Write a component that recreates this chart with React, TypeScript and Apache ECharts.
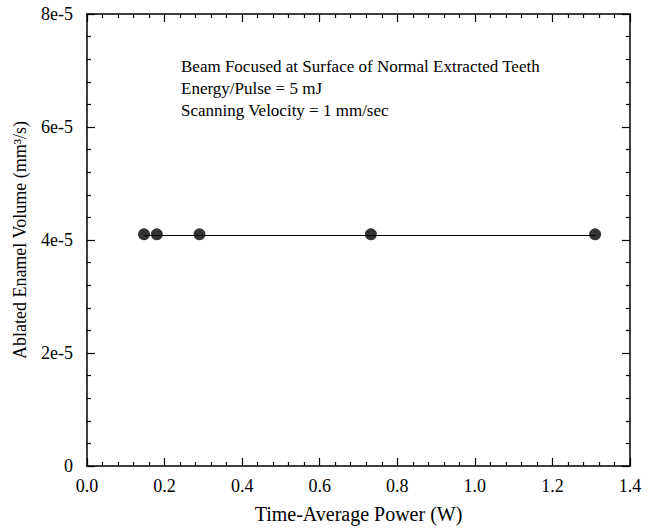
import React, { useEffect, useRef } from "react";
import * as echarts from "echarts";

const xValues = [0.147, 0.18, 0.29, 0.732, 1.31];
const yValues = [4.1e-5, 4.1e-5, 4.1e-5, 4.1e-5, 4.1e-5];
const fitX = [0.147, 1.31];
const fitY = [4.08e-5, 4.08e-5];
const xTickLabels = ["0.0", "0.2", "0.4", "0.6", "0.8", "1.0", "1.2", "1.4"];
const yTickLabels = ["0", "2e-5", "4e-5", "6e-5", "8e-5"];
const notes = [
  "Beam Focused at Surface of Normal Extracted Teeth",
  "Energy/Pulse = 5 mJ",
  "Scanning Velocity = 1 mm/sec",
];

const FONT = "Liberation Serif";

export default function App() {
  const ref = useRef<HTMLDivElement>(null);
  useEffect(() => {
    if (!ref.current) return;
    const chart = echarts.init(ref.current, undefined, { renderer: "svg" });
    const axisLine = { show: true, onZero: false, lineStyle: { color: "#000", width: 1.5 } };
    const axisTick = { show: true, inside: true, length: 8, lineStyle: { color: "#000", width: 1.2 } };
    const minorTick = { show: true, splitNumber: 5, length: 4, lineStyle: { color: "#000", width: 1.2 } };
    chart.setOption({
      animation: false,
      backgroundColor: "#fff",
      textStyle: { fontFamily: FONT, color: "#000" },
      grid: { left: 87, right: 28, top: 14, bottom: 64, containLabel: false },
      xAxis: [
        {
          type: "value",
          min: 0,
          max: 1.4,
          interval: 0.2,
          axisLine,
          axisTick,
          minorTick,
          splitLine: { show: false },
          axisLabel: {
            color: "#000",
            fontFamily: FONT,
            fontSize: 18,
            margin: 11,
            formatter: (v: number) => xTickLabels[Math.round(v / 0.2)] ?? "",
          },
          name: "Time-Average Power (W)",
          nameLocation: "middle",
          nameGap: 38,
          nameTextStyle: { color: "#000", fontFamily: FONT, fontSize: 20 },
        },
        {
          type: "value",
          position: "top",
          min: 0,
          max: 1.4,
          interval: 0.2,
          axisLine,
          axisTick,
          minorTick,
          splitLine: { show: false },
          axisLabel: { show: false },
        },
      ],
      yAxis: [
        {
          type: "value",
          min: 0,
          max: 8e-5,
          interval: 2e-5,
          axisLine,
          axisTick,
          minorTick,
          splitLine: { show: false },
          axisLabel: {
            color: "#000",
            fontFamily: FONT,
            fontSize: 18,
            margin: 14,
            formatter: (v: number) => yTickLabels[Math.round(v / 2e-5)] ?? "",
          },
          name: "Ablated Enamel Volume (mm³/s)",
          nameLocation: "middle",
          nameGap: 58,
          nameTextStyle: { color: "#000", fontFamily: FONT, fontSize: 18 },
        },
        {
          type: "value",
          position: "right",
          min: 0,
          max: 8e-5,
          interval: 2e-5,
          axisLine,
          axisTick,
          minorTick,
          splitLine: { show: false },
          axisLabel: { show: false },
        },
      ],
      series: [
        {
          type: "line",
          data: fitX.map((x, i) => [x, fitY[i]]),
          showSymbol: false,
          symbol: "none",
          lineStyle: { color: "#000", width: 1.2 },
          z: 2,
        },
        {
          type: "scatter",
          data: xValues.map((x, i) => [x, yValues[i]]),
          symbol: "circle",
          symbolSize: 12,
          itemStyle: { color: "#000" },
          z: 3,
        },
      ],
      graphic: notes.map((t, i) => ({
        type: "text",
        x: 181,
        y: 66 + i * 22,
        style: { text: t, fill: "#000", font: `17px "${FONT}"`, verticalAlign: "middle" },
      })),
    });
    return () => chart.dispose();
  }, []);
  return (
    <div
      ref={ref}
      style={{ position: "absolute", left: 0, top: 0, width: 658, height: 530 }}
    />
  );
}
